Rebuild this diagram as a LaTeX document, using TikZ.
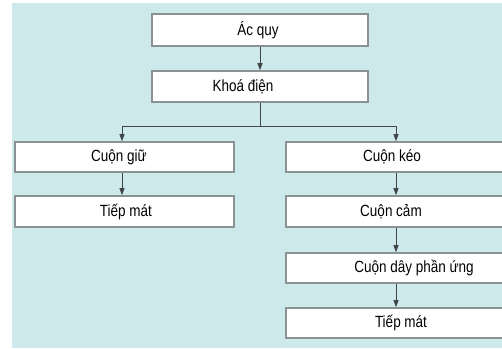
\documentclass[tikz,border=0pt]{standalone}
\usepackage{fontspec}
\setmainfont{Liberation Sans}
\usetikzlibrary{arrows.meta}
\definecolor{bgc}{HTML}{CDE9EC}
\definecolor{boxline}{HTML}{8A9292}
\definecolor{conn}{HTML}{404546}
\begin{document}
\begin{tikzpicture}[x=1pt,y=-1pt,
  box/.style={draw=boxline,line width=1.6pt,fill=white,rectangle,inner sep=0pt},
  txt/.style={font=\fontsize{13.5}{15}\selectfont,text=black,inner sep=0pt,yscale=1.2},
  arr/.style={draw=conn,line width=0.7pt,-{Triangle[length=7pt,width=5pt]}},
  ln/.style={draw=conn,line width=0.7pt}]
\useasboundingbox (0,0) rectangle (502,348);
\fill[white] (0,0) rectangle (502,348);
\fill[bgc] (12,3) rectangle (502,348);
% boxes
\node[box,minimum width=216pt,minimum height=32pt] (acquy) at (260,30) {};
\node[box,minimum width=216pt,minimum height=31pt] (khoa) at (260,86.5) {};
\node[box,minimum width=219pt,minimum height=30pt] (giu) at (124.5,157) {};
\node[box,minimum width=219pt,minimum height=31pt] (tiepL) at (124.5,211.5) {};
\begin{scope}
\clip (0,0) rectangle (502,348);
\node[box,minimum width=222pt,minimum height=30pt] (keo) at (397,157) {};
\node[box,minimum width=222pt,minimum height=31pt] (cam) at (397,211.5) {};
\node[box,minimum width=222pt,minimum height=30pt] (day) at (397,268) {};
\node[box,minimum width=222pt,minimum height=30pt] (tiepR) at (397,323) {};
\end{scope}
% texts
\node[txt] (tacquy) at (258,30) {Ác quy};
\node[txt] (tkhoa) at (243,86.5) {Khoá điện};
\node[txt] (tgiu) at (119,157) {Cuộn giữ};
\node[txt] (ttiepL) at (126,211.5) {Tiếp mát};
\node[txt] (tkeo) at (392,157) {Cuộn kéo};
\node[txt] (tcam) at (391,211.5) {Cuộn cảm};
\node[txt] (tday) at (414,268) {Cuộn dây phần ứng};
\node[txt] (ttiepR) at (401,323) {Tiếp mát};
% connectors
\coordinate (jc) at (260,126);
\coordinate (jl) at (122,126);
\coordinate (jr) at (396,126);
\draw[arr] (acquy.south) -- (khoa.north);
\draw[ln] (khoa.south) -- (jc);
\draw[ln] (jl) -- (jr);
\draw[arr] (jl) -- (giu.north -| jl);
\draw[arr] (jr) -- (keo.north -| jr);
\draw[arr] (giu.south -| jl) -- (tiepL.north -| jl);
\draw[arr] (keo.south -| jr) -- (cam.north -| jr);
\draw[arr] (cam.south -| jr) -- (day.north -| jr);
\draw[arr] (day.south -| jr) -- (tiepR.north -| jr);
\end{tikzpicture}
\end{document}
